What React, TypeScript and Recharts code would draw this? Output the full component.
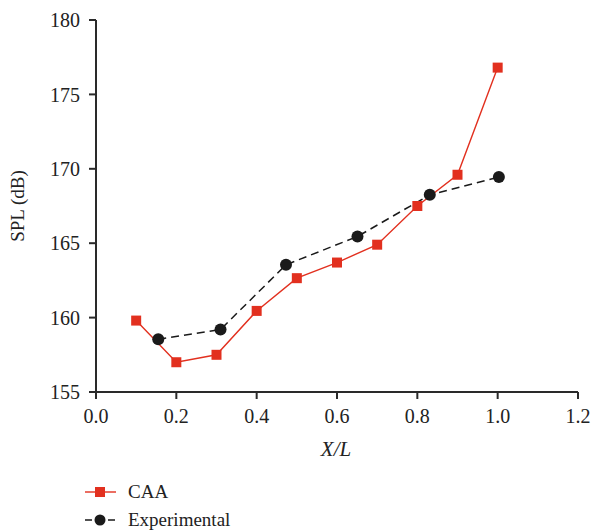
import React from "react";
import { Line, LineChart, XAxis, YAxis } from "recharts";

const caaX = [0.1, 0.2, 0.3, 0.4, 0.5, 0.6, 0.7, 0.8, 0.9, 1.0];
const caaY = [159.8, 157.0, 157.5, 160.45, 162.65, 163.7, 164.9, 167.5, 169.6, 176.8];
const expX = [0.155, 0.31, 0.473, 0.651, 0.831, 1.003];
const expY = [158.55, 159.2, 163.55, 165.45, 168.25, 169.45];
const xTicks = [0, 0.2, 0.4, 0.6, 0.8, 1.0, 1.2];
const xMinorTicks = [0.1, 0.3, 0.5, 0.7, 0.9, 1.1];
const yTicks = [155, 160, 165, 170, 175, 180];
const yMinorTicks = [157.5, 162.5, 167.5, 172.5, 177.5];

const caaData = caaX.map((x, i) => ({ x, y: caaY[i] }));
const expData = expX.map((x, i) => ({ x, y: expY[i] }));

const RED = "#e2301f";
const INK = "#1a1a1a";
const AXIS = "#2a2a2a";
const FONT = "Liberation Serif, Times New Roman, serif";
const tickStyle = { fontSize: 20, fontFamily: FONT, fill: "#222" };
const lineStyle = { stroke: AXIS, strokeWidth: 2 };

function SquareDot(props: any) {
  const { cx, cy } = props;
  if (cx == null || cy == null) return null;
  return <rect x={cx - 5} y={cy - 5} width={10} height={10} fill={RED} />;
}

function CircleDot(props: any) {
  const { cx, cy } = props;
  if (cx == null || cy == null) return null;
  return <circle cx={cx} cy={cy} r={6} fill={INK} />;
}

export default function App() {
  return (
    <div style={{ position: "absolute", left: 0, top: 0, width: 591, height: 532, background: "#fff" }}>
      <LineChart width={591} height={532} margin={{ top: 20, right: 13, left: 0, bottom: 70 }}>
        {/* minor ticks: zero-size axes sitting on the main axis line */}
        <XAxis
          xAxisId="minor"
          type="number"
          domain={[0, 1.2]}
          ticks={xMinorTicks}
          interval={0}
          tickSize={5}
          tick={false}
          axisLine={false}
          tickLine={lineStyle}
          height={0}
        />
        <YAxis
          yAxisId="minor"
          type="number"
          domain={[155, 180]}
          ticks={yMinorTicks}
          interval={0}
          tickSize={5}
          tick={false}
          axisLine={false}
          tickLine={lineStyle}
          width={0}
        />
        <XAxis
          type="number"
          dataKey="x"
          domain={[0, 1.2]}
          ticks={xTicks}
          interval={0}
          tickSize={7}
          tickMargin={10}
          tickFormatter={(v: number) => v.toFixed(1)}
          tick={tickStyle}
          tickLine={lineStyle}
          axisLine={lineStyle}
          height={70}
          allowDataOverflow
        />
        <YAxis
          type="number"
          dataKey="y"
          domain={[155, 180]}
          ticks={yTicks}
          interval={0}
          tickSize={7}
          tickMargin={9}
          tick={tickStyle}
          tickLine={lineStyle}
          axisLine={lineStyle}
          width={96}
          allowDataOverflow
        />
        <Line
          data={caaData}
          dataKey="y"
          stroke={RED}
          strokeWidth={1.4}
          dot={<SquareDot />}
          activeDot={false}
          isAnimationActive={false}
        />
        <Line
          data={expData}
          dataKey="y"
          stroke={INK}
          strokeWidth={1.5}
          strokeDasharray="8 5"
          dot={<CircleDot />}
          activeDot={false}
          isAnimationActive={false}
        />
        <text x={336} y={456} textAnchor="middle" fontSize={21} fontStyle="italic" fontFamily={FONT} fill="#222">
          X/L
        </text>
        <text
          x={24}
          y={206}
          transform="rotate(-90 24 206)"
          textAnchor="middle"
          fontSize={19}
          fontFamily={FONT}
          fill="#222"
        >
          SPL (dB)
        </text>
      </LineChart>
      <div style={{ position: "absolute", left: 84, top: 478, fontFamily: FONT, fontSize: 19, color: "#222" }}>
        <div style={{ display: "flex", alignItems: "center", height: 28 }}>
          <svg width={34} height={12}>
            <line x1={1} x2={32} y1={6} y2={6} stroke={RED} strokeWidth={1.4} />
            <rect x={11} y={1} width={10} height={10} fill={RED} />
          </svg>
          <span style={{ marginLeft: 10 }}>CAA</span>
        </div>
        <div style={{ display: "flex", alignItems: "center", height: 28 }}>
          <svg width={34} height={12}>
            <line x1={1} x2={32} y1={6} y2={6} stroke={INK} strokeWidth={1.5} strokeDasharray="7 16" />
            <circle cx={16} cy={6} r={5.5} fill={INK} />
          </svg>
          <span style={{ marginLeft: 10 }}>Experimental</span>
        </div>
      </div>
    </div>
  );
}
